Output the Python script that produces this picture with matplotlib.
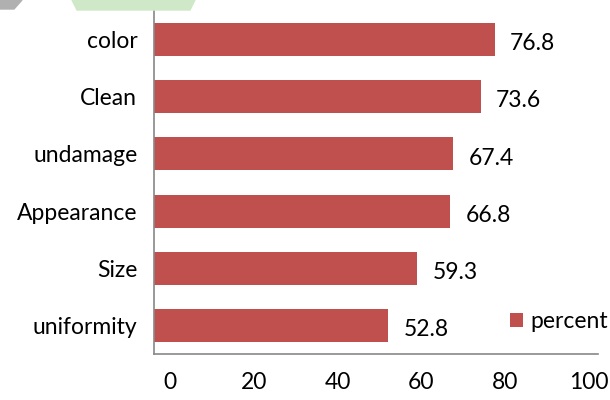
import matplotlib
matplotlib.use("Agg")
import matplotlib.pyplot as plt
from matplotlib.patches import Polygon
from matplotlib.transforms import ScaledTranslation

categories = ["uniformity", "Size", "Appearance", "undamage", "Clean", "color"]
percent = [52.8, 59.3, 66.8, 67.4, 73.6, 76.8]
xticks = [0, 20, 40, 60, 80, 100]

bar_color = "#C0504D"
plt.rcParams['font.family'] = ['Lato', 'DejaVu Sans']

fig = plt.figure(figsize=(6.1, 4.0), dpi=100)
ax = fig.add_axes([0.2525, 0.115, 0.7275, 0.8575])

bars = ax.barh(categories, percent, height=0.58, color=bar_color, label="percent")
for b, v in zip(bars, percent):
    ax.annotate(f"{v}", (v, b.get_y() + b.get_height() / 2), xytext=(11, -3),
                textcoords="offset points", va="center", ha="left", fontsize=16.5)

ax.set_xlim(0, 100)
ax.set_ylim(-0.5, len(categories) - 0.5)
ax.set_xticks(xticks)
ax.tick_params(axis="both", length=0, labelsize=16.5)
ax.tick_params(axis="x", pad=13)
ax.tick_params(axis="y", pad=12)
for s in ["top", "right"]:
    ax.spines[s].set_visible(False)
for s in ["left", "bottom"]:
    ax.spines[s].set_color("#888888")
    ax.spines[s].set_linewidth(1.2)

# the x labels in the original sit a bit compressed toward the middle
for t, v in zip(ax.get_xticklabels(), xticks):
    dx = (16 - 0.25 * v) / 100
    t.set_transform(t.get_transform() + ScaledTranslation(dx, 0, fig.dpi_scale_trans))

ax.legend(loc="center left", bbox_to_anchor=(510 / 610, 1 - 322 / 400), bbox_transform=fig.transFigure,
          frameon=False, fontsize=16.5, borderaxespad=0, borderpad=0,
          handlelength=0.55, handleheight=0.55, handletextpad=0.35)

# watermark fragments at the top edge
fig.patches.append(Polygon([[72 / 610, 1], [195 / 610, 1], [190 / 610, 1 - 10 / 400], [77 / 610, 1 - 10 / 400]],
                           closed=True, transform=fig.transFigure, color="#CFE9C8", zorder=0))
fig.patches.append(Polygon([[0, 1], [22 / 610, 1], [14 / 610, 1 - 9 / 400], [0, 1 - 9 / 400]],
                           closed=True, transform=fig.transFigure, color="#B0B0B0", zorder=0))

fig.savefig("out.png", dpi=100)
